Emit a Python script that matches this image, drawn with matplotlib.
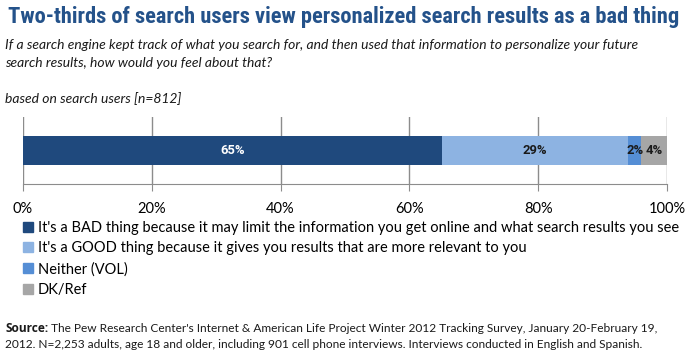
import matplotlib
matplotlib.use("Agg")
import matplotlib.pyplot as plt
from matplotlib.patches import Patch

# Pew chart: personalized search results, single stacked bar
categories = ["It's a BAD thing because it may limit the information you get online and what search results you see",
              "It's a GOOD thing because it gives you results that are more relevant to you",
              "Neither (VOL)",
              "DK/Ref"]
values = [65, 29, 2, 4]
labels = ["65%", "29%", "2%", "4%"]
colors = ["#1f497d", "#8db3e2", "#558ed5", "#a6a6a6"]
ticks = [0, 20, 40, 60, 80, 100]

body = ["Lato", "DejaVu Sans"]
bold_body = ["Open Sans", "DejaVu Sans"]
label_font = ["Roboto", "DejaVu Sans"]
narrow = ["Liberation Sans Narrow", "Roboto Condensed", "Liberation Sans", "DejaVu Sans"]

fig = plt.figure(figsize=(6.9, 3.57), dpi=100)
ax = fig.add_axes([23/690, 1-184/357, 644/690, 67/357])

left = 0
for v, lab, c in zip(values, labels, colors):
    ax.barh(0.5, v, left=left, height=0.433, color=c, zorder=3)
    tc = "white" if c == "#1f497d" else "#1a1a1a"
    ax.text(left + v/2, 0.5, lab, ha="center", va="center", color=tc,
            fontsize=9.4, fontweight="bold", family=label_font, zorder=4)
    left += v

ax.set_xlim(0, 100)
ax.set_ylim(0, 1)
ax.set_xticks(ticks)
ax.set_xticklabels([f"{t}%" for t in ticks], fontsize=10.5, family=body)
ax.set_yticks([])
ax.grid(axis="x", color="#8c8c8c", lw=1, zorder=0)
for s in ["top", "right", "left"]:
    ax.spines[s].set_visible(False)
ax.spines["bottom"].set_color("#8c8c8c")
ax.tick_params(axis="x", length=5, color="#8c8c8c", pad=8)

fig.text(8/690, 1-17/357, "Two-thirds of search users view personalized search results as a bad thing",
         fontsize=16.2, fontweight="bold", color="#24528a", family=narrow, va="center")
fig.text(5/690, 1-45/357, "If a search engine kept track of what you search for, and then used that information to personalize your future",
         fontsize=10, style="italic", family=body, va="center", color="#1a1a1a")
fig.text(5/690, 1-63/357, "search results, how would you feel about that?",
         fontsize=10, style="italic", family=body, va="center", color="#1a1a1a")
fig.text(5/690, 1-99/357, "based on search users [n=812]",
         fontsize=10, style="italic", family=body, va="center", color="#1a1a1a")

handles = [Patch(color=c) for c in colors]
fig.legend(handles, categories, loc="upper left", bbox_to_anchor=(17/690, 1-215/357),
           frameon=False, prop={"family": body, "size": 10.55}, handlelength=0.7,
           handleheight=0.7, handletextpad=0.3, labelspacing=0.45, borderaxespad=0)

src = fig.text(5/690, 1-328/357, "Source:", fontsize=8.6, fontweight="bold",
               family=bold_body, va="center", color="#1a1a1a")
fig.canvas.draw()
bb = src.get_window_extent()
fig.text((bb.x1 + 3)/690, 1-328/357,
         "The Pew Research Center's Internet & American Life Project Winter 2012 Tracking Survey, January 20-February 19,",
         fontsize=8.6, family=body, va="center", color="#1a1a1a")
fig.text(5/690, 1-345/357, "2012. N=2,253 adults, age 18 and older, including 901 cell phone interviews. Interviews conducted in English and Spanish.",
         fontsize=8.6, family=body, va="center", color="#1a1a1a")

fig.savefig("out.png", dpi=100)
